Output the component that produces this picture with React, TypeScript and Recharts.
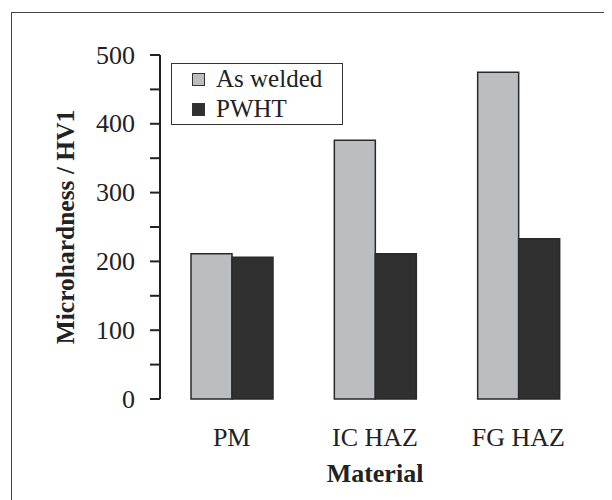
import React from 'react';
import { BarChart, Bar, XAxis, YAxis, Legend, Label } from 'recharts';

const materials = ['PM', 'IC HAZ', 'FG HAZ'];
const asWelded = [211, 376, 475];
const pwht = [206, 211, 233];
const seriesNames = ['As welded', 'PWHT'];
const yTicks = [0, 50, 100, 150, 200, 250, 300, 350, 400, 450, 500];
const boundaryTicks = [0, 1, 2, 3];

const data = materials.map((m, i) => ({ material: m, asWelded: asWelded[i], pwht: pwht[i] }));

const FONT = "'Liberation Serif', 'Times New Roman', Times, serif";
const INK = '#222';
const GREY = '#bcbdc1';
const DARK = '#303030';

const YTick = (props: any) => {
  const { x, y, payload } = props;
  if (payload.value % 100 !== 0) return null;
  return (
    <text x={x} y={y} textAnchor="end" dominantBaseline="central" style={{ fontFamily: FONT }} fontSize={26} fill={INK}>
      {payload.value}
    </text>
  );
};

const XTick = (props: any) => {
  const { x, y, payload } = props;
  return (
    <text x={x} y={y + 38} textAnchor="middle" dominantBaseline="central" style={{ fontFamily: FONT }} fontSize={26} fill={INK}>
      {payload.value}
    </text>
  );
};

const MaterialLabel = (props: any) => {
  const vb = props.viewBox || {};
  return (
    <text x={vb.x + vb.width / 2} y={vb.y + 74} textAnchor="middle" dominantBaseline="central" style={{ fontFamily: FONT }} fontWeight="bold" fontSize={26} fill={INK}>
      Material
    </text>
  );
};

const YLabel = (props: any) => {
  const vb = props.viewBox || {};
  const cx = 57;
  const cy = vb.y + vb.height / 2;
  return (
    <text x={cx} y={cy} transform={`rotate(-90, ${cx}, ${cy})`} textAnchor="middle" dominantBaseline="central" style={{ fontFamily: FONT }} fontWeight="bold" fontSize={25.5} fill={INK}>
      Microhardness / HV1
    </text>
  );
};

const LegendBox = (props: any) => {
  const payload = props.payload || [];
  return (
    <div style={{ position: 'relative', width: 172, height: 62, border: '1.5px solid #333', boxSizing: 'border-box', background: '#fff', fontFamily: FONT }}>
      {payload.map((p: any, i: number) => (
        <div key={i} style={{ position: 'absolute', left: 20, top: i * 30, height: 30, display: 'flex', alignItems: 'center' }}>
          <div style={{ width: 11, height: 11, background: p.color, border: '1px solid #333', marginRight: 11 }} />
          <span style={{ fontFamily: FONT, fontSize: 25, color: INK, lineHeight: '30px', whiteSpace: 'nowrap' }}>{p.value}</span>
        </div>
      ))}
    </div>
  );
};

export default function App() {
  return (
    <div style={{ position: 'relative', width: 604, height: 492, overflow: 'hidden', background: '#fff', fontFamily: FONT }}>
      <div style={{ position: 'absolute', left: 3, top: 4, width: 700, height: 700, borderLeft: '1.5px solid #444', borderTop: '1.5px solid #444' }} />
      <div style={{ position: 'absolute', left: 0, top: 0 }}>
        <BarChart width={604} height={492} data={data} margin={{ top: 47, right: 22, left: 0, bottom: 0 }} barGap={0} barSize={41}>
          <XAxis xAxisId="b" type="number" domain={[0, 3]} ticks={boundaryTicks} allowDataOverflow height={0} tick={false} tickSize={10} tickLine={{ stroke: INK, strokeWidth: 2 }} axisLine={{ stroke: INK, strokeWidth: 2 }} />
          <XAxis xAxisId="cat" dataKey="material" height={101} axisLine={false} tickLine={false} tickSize={0} tickMargin={0} tick={<XTick />} interval={0}>
            <Label content={<MaterialLabel />} />
          </XAxis>
          <XAxis xAxisId="top" dataKey="material" orientation="top" height={0} tick={false} tickLine={false} axisLine={{ stroke: INK, strokeWidth: 2 }} />
          <YAxis yAxisId="left" domain={[0, 500]} ticks={yTicks} width={152} tickSize={10} tickMargin={15} tick={<YTick />} tickLine={{ stroke: INK, strokeWidth: 2 }} axisLine={{ stroke: INK, strokeWidth: 2 }} interval={0}>
            <Label content={<YLabel />} />
          </YAxis>
          <YAxis yAxisId="right" orientation="right" domain={[0, 500]} width={0} tick={false} tickLine={false} axisLine={{ stroke: INK, strokeWidth: 2 }} />
          <Legend layout="vertical" align="center" verticalAlign="middle" content={<LegendBox />} wrapperStyle={{ position: 'absolute', left: 163, top: 55, width: 172, height: 62 }} />
          <Bar xAxisId="cat" yAxisId="left" dataKey="asWelded" name={seriesNames[0]} fill={GREY} stroke="#2a2a2a" strokeWidth={1.5} isAnimationActive={false} />
          <Bar xAxisId="cat" yAxisId="left" dataKey="pwht" name={seriesNames[1]} fill={DARK} stroke="#2a2a2a" strokeWidth={1.5} isAnimationActive={false} />
        </BarChart>
      </div>
    </div>
  );
}
